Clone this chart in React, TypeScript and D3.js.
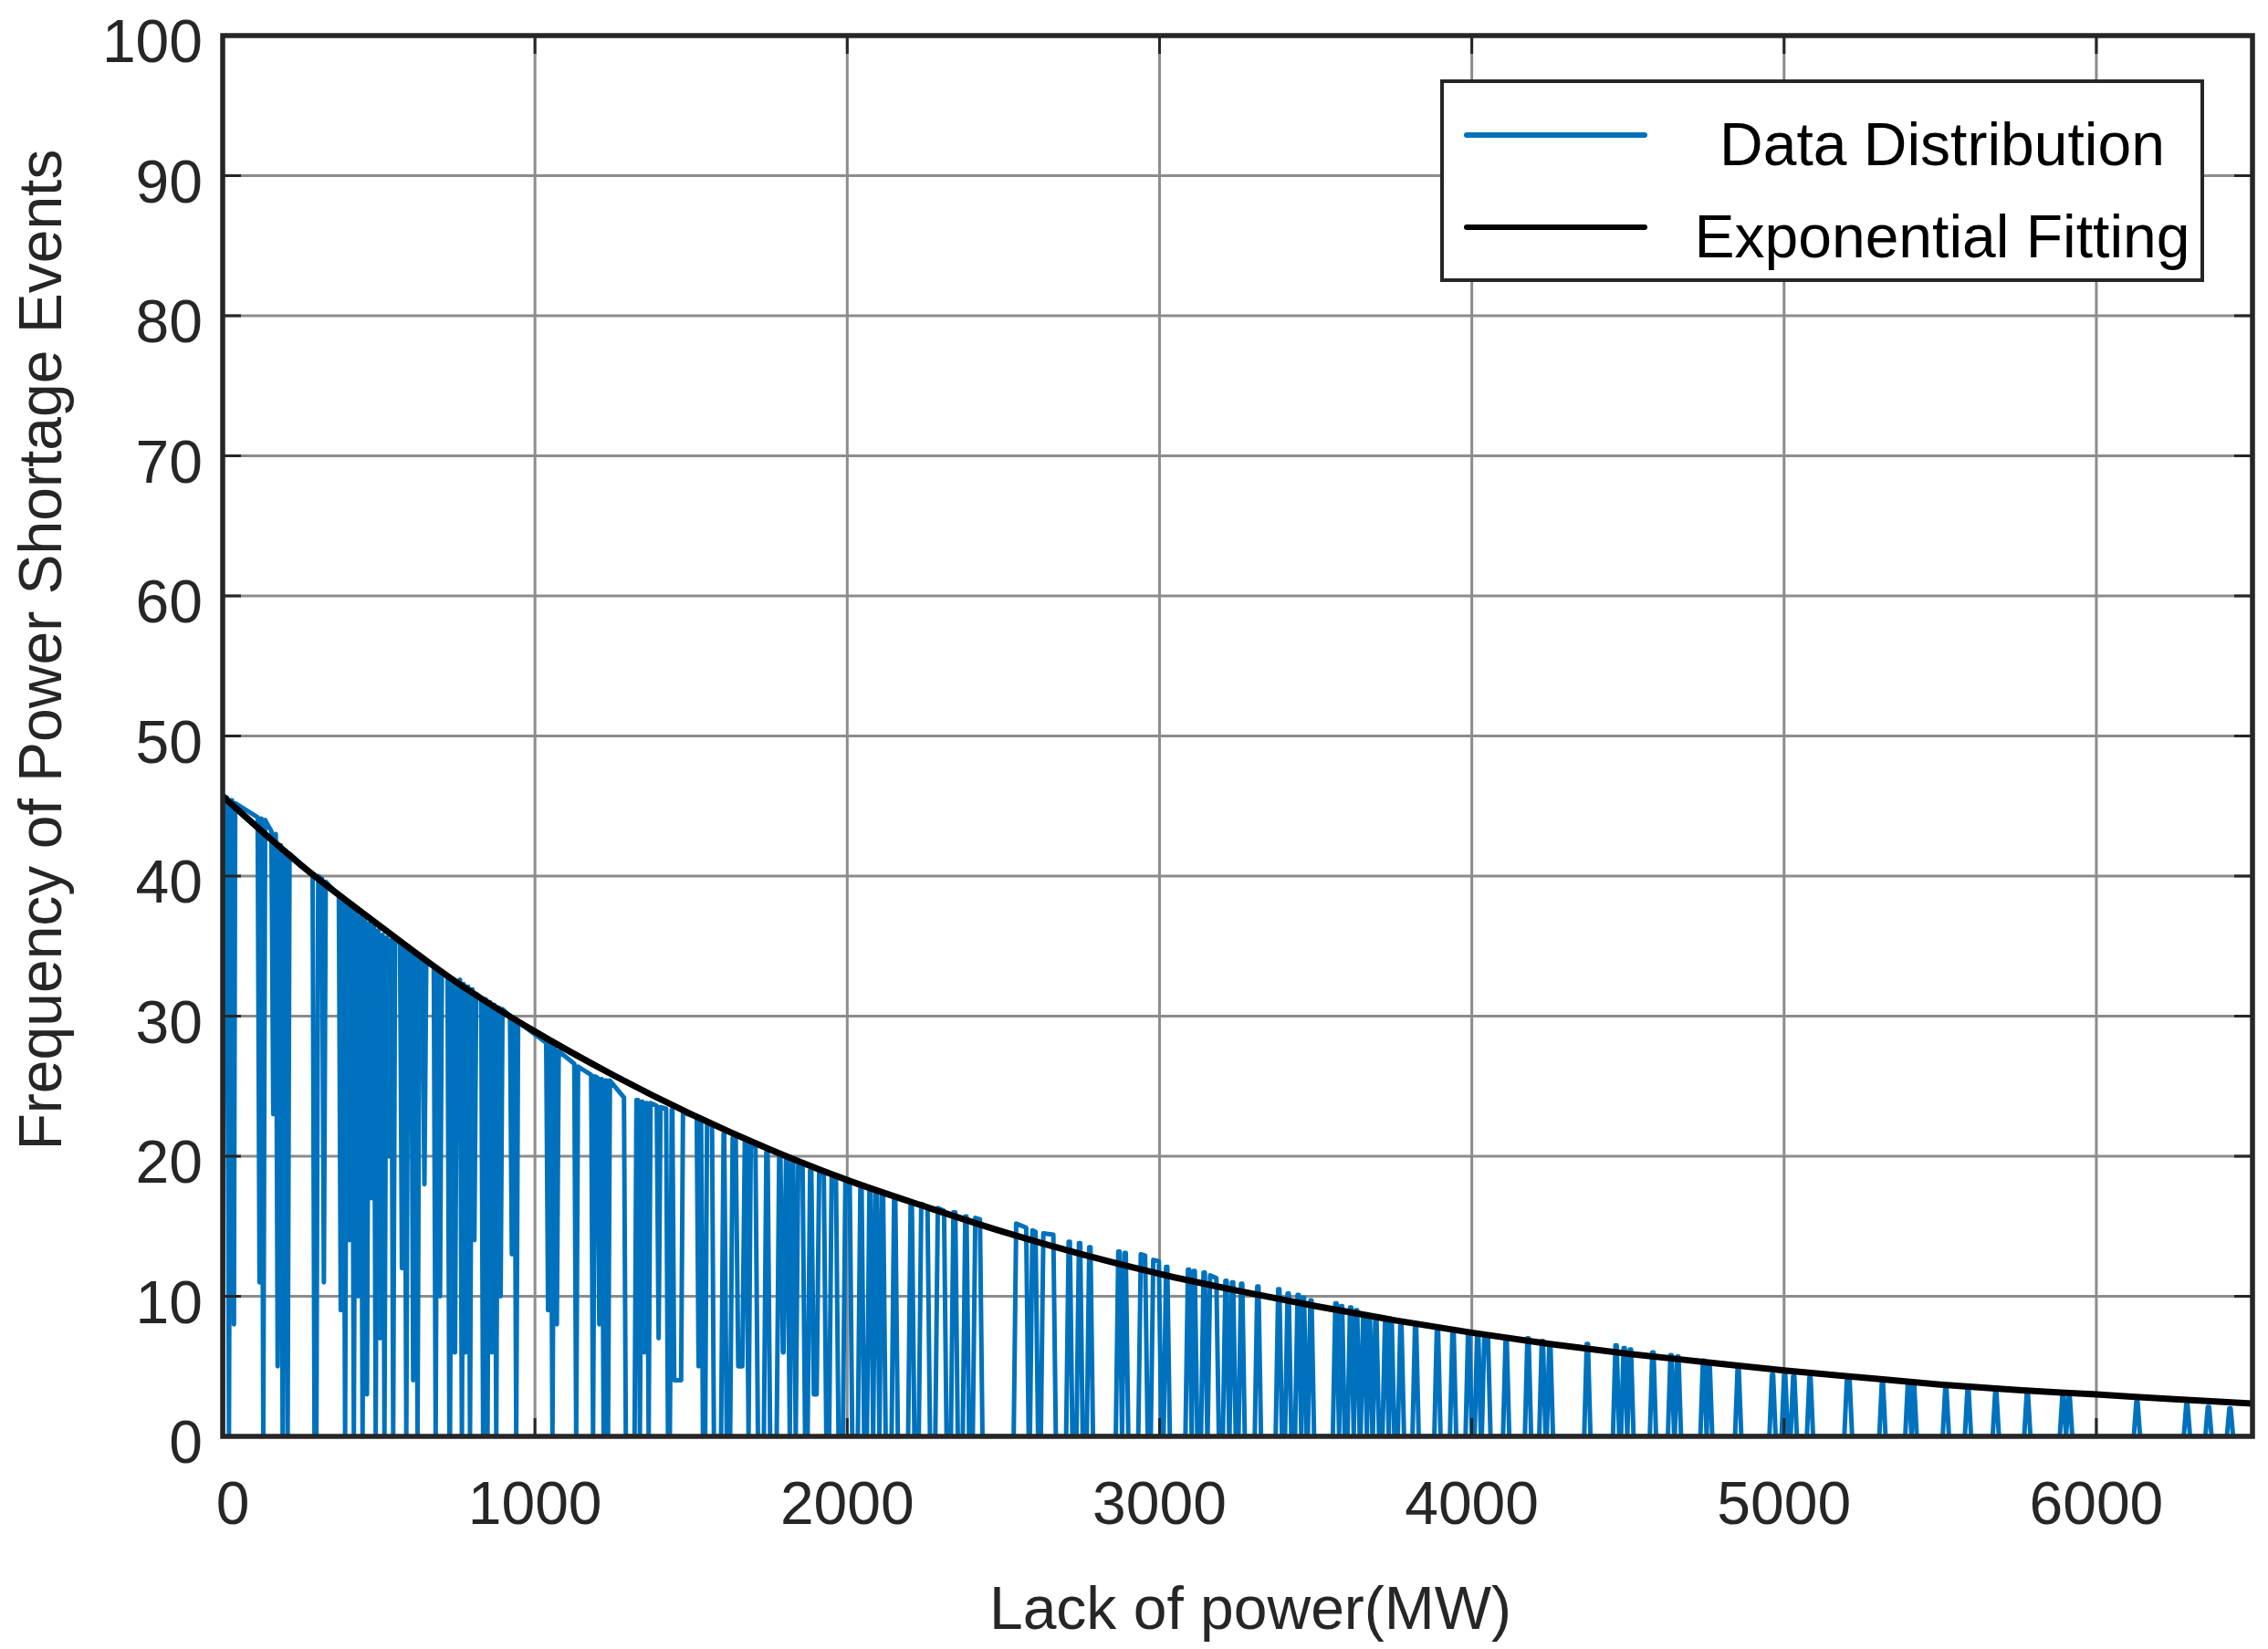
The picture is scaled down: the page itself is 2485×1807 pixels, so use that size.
import { useEffect, useRef } from "react";
import * as d3 from "d3";

const WIDTH = 2485;
const HEIGHT = 1807;

const xTicks = [0, 1000, 2000, 3000, 4000, 5000, 6000];
const yTicks = [0, 10, 20, 30, 40, 50, 60, 70, 80, 90, 100];

// exponential fitting curve, every 250 MW
const fitMW = [
  0, 250, 500, 750, 1000, 1250, 1500, 1750, 2000, 2250, 2500, 2750, 3000,
  3250, 3500, 3750, 4000, 4250, 4500, 4750, 5000, 5250, 5500, 5750, 6000,
  6250, 6500,
];
const fitFreq = [
  45.7, 40.8, 36.5, 32.4, 28.9, 25.8, 23.0, 20.5, 18.3, 16.4, 14.6, 13.0,
  11.6, 10.4, 9.3, 8.3, 7.4, 6.6, 5.9, 5.3, 4.7, 4.2, 3.7, 3.3, 3.0, 2.65,
  2.35,
];

// data distribution, dense part (0-1600 MW):
// pulses [fromMW, toMW, heightAtFrom, heightAtTo, levelAfter]
const densePulses: [number, number, number, number, number][] = [
  [4, 14, 45.7, 45.6, 0],
  [26, 30, 45.4, 45.4, 8],
  [40, 112, 45.2, 44.2, 11],
  [124, 124, 44.1, 44.1, 0],
  [136, 156, 44.0, 43.2, 23],
  [168, 170, 43.0, 43.0, 5],
  [182, 186, 42.2, 42.2, 0],
  [198, 202, 41.8, 41.8, 0],
  [214, 288, 41.6, 40.1, 0],
  [306, 318, 40.0, 39.8, 11],
  [330, 372, 39.6, 38.6, 9],
  [384, 386, 38.3, 38.3, 0],
  [398, 400, 38.0, 38.0, 14],
  [412, 414, 37.7, 37.7, 0],
  [426, 428, 37.4, 37.4, 10],
  [440, 442, 37.1, 37.1, 0],
  [454, 456, 36.9, 36.9, 3],
  [468, 470, 36.6, 36.6, 17],
  [482, 484, 36.4, 36.4, 0],
  [496, 498, 36.1, 36.1, 7],
  [510, 512, 35.8, 35.8, 0],
  [524, 526, 35.6, 35.6, 20],
  [538, 540, 35.4, 35.4, 0],
  [552, 568, 35.5, 35.2, 12],
  [580, 582, 35.0, 35.0, 0],
  [594, 604, 35.0, 34.8, 4],
  [616, 618, 34.5, 34.5, 0],
  [630, 640, 34.4, 34.2, 18],
  [652, 676, 33.9, 33.5, 0],
  [688, 690, 33.4, 33.4, 10],
  [702, 720, 33.2, 32.8, 0],
  [734, 736, 32.6, 32.6, 6],
  [750, 760, 32.4, 32.6, 0],
  [772, 772, 32.3, 32.3, 6],
  [784, 786, 32.1, 32.1, 0],
  [798, 800, 31.9, 31.9, 14],
  [812, 828, 31.6, 31.3, 0],
  [840, 842, 31.2, 31.2, 0],
  [854, 856, 31.0, 31.0, 6],
  [868, 870, 30.8, 30.8, 0],
  [882, 884, 30.6, 30.6, 10],
  [896, 920, 30.5, 30.0, 13],
  [932, 934, 29.8, 29.8, 0],
  [946, 1036, 29.6, 28.1, 9],
  [1048, 1050, 28.0, 28.0, 0],
  [1062, 1064, 27.8, 27.8, 8],
  [1076, 1126, 27.5, 26.6, 0],
  [1138, 1180, 26.4, 25.8, 0],
  [1192, 1200, 25.7, 25.6, 8],
  [1212, 1214, 25.5, 25.5, 0],
  [1226, 1228, 25.4, 25.4, 0],
  [1240, 1285, 25.4, 24.2, 0],
  [1325, 1330, 24.0, 24.0, 0],
  [1342, 1344, 23.9, 23.9, 6],
  [1356, 1358, 23.8, 23.8, 0],
  [1370, 1390, 23.8, 23.6, 7],
  [1402, 1420, 23.5, 23.4, 0],
  [1438, 1440, 23.3, 23.3, 4],
  [1474, 1518, 23.1, 22.8, 5],
  [1530, 1532, 22.7, 22.7, 0],
  [1551, 1567, 22.4, 22.2, 0],
];

// data distribution, sparse part (1600-6500 MW), same layout
const sparsePulses: [number, number, number, number, number][] = [
  [1604, 1606, 21.6, 21.6, 0],
  [1633, 1643, 21.3, 21.2, 5],
  [1672, 1676, 21.0, 21.0, 0],
  [1691, 1706, 20.9, 20.7, 0],
  [1741, 1745, 20.3, 20.3, 0],
  [1782, 1786, 20.0, 20.0, 6],
  [1804, 1808, 19.8, 19.8, 0],
  [1823, 1827, 19.6, 19.6, 0],
  [1843, 1857, 19.4, 19.3, 0],
  [1881, 1885, 19.0, 19.0, 3],
  [1910, 1925, 18.8, 18.7, 0],
  [1950, 1964, 18.5, 18.4, 0],
  [1994, 2008, 18.2, 18.1, 0],
  [2042, 2046, 17.7, 17.7, 0],
  [2071, 2075, 17.5, 17.5, 0],
  [2091, 2095, 17.3, 17.3, 0],
  [2111, 2115, 17.2, 17.2, 0],
  [2150, 2154, 16.9, 16.9, 0],
  [2203, 2207, 16.5, 16.5, 0],
  [2237, 2257, 16.6, 16.4, 0],
  [2290, 2310, 16.3, 16.1, 0],
  [2340, 2346, 16.0, 16.0, 0],
  [2378, 2382, 15.7, 15.7, 0],
  [2410, 2425, 15.6, 15.5, 0],
  [2541, 2573, 15.2, 14.9, 0],
  [2593, 2603, 14.7, 14.6, 0],
  [2628, 2660, 14.5, 14.4, 0],
  [2709, 2713, 13.9, 13.9, 0],
  [2742, 2746, 13.8, 13.8, 0],
  [2775, 2779, 13.5, 13.5, 0],
  [2868, 2872, 13.2, 13.2, 0],
  [2888, 2892, 13.1, 13.1, 0],
  [2940, 2954, 13.0, 12.9, 0],
  [2980, 2998, 12.6, 12.5, 0],
  [3021, 3025, 12.1, 12.1, 0],
  [3091, 3095, 11.9, 11.9, 0],
  [3109, 3113, 11.8, 11.8, 0],
  [3141, 3145, 11.7, 11.7, 0],
  [3162, 3182, 11.5, 11.3, 0],
  [3211, 3215, 11.1, 11.1, 0],
  [3232, 3236, 11.0, 11.0, 0],
  [3261, 3265, 10.9, 10.9, 0],
  [3313, 3317, 10.7, 10.7, 0],
  [3380, 3384, 10.5, 10.5, 0],
  [3410, 3414, 10.2, 10.2, 0],
  [3442, 3446, 10.1, 10.1, 0],
  [3459, 3463, 9.9, 9.9, 0],
  [3483, 3487, 9.7, 9.7, 0],
  [3563, 3567, 9.5, 9.5, 0],
  [3581, 3585, 9.3, 9.3, 0],
  [3610, 3614, 9.2, 9.2, 0],
  [3629, 3633, 9.0, 9.0, 0],
  [3652, 3656, 8.6, 8.6, 0],
  [3670, 3674, 8.5, 8.5, 0],
  [3691, 3695, 8.3, 8.3, 0],
  [3722, 3726, 8.2, 8.2, 0],
  [3740, 3744, 8.1, 8.1, 0],
  [3771, 3775, 7.9, 7.9, 0],
  [3818, 3822, 7.8, 7.8, 0],
  [3888, 3892, 7.7, 7.7, 0],
  [3938, 3942, 7.5, 7.5, 0],
  [3988, 3992, 7.4, 7.4, 0],
  [4017, 4021, 7.3, 7.3, 0],
  [4040, 4052, 7.2, 7.1, 0],
  [4108, 4112, 6.8, 6.8, 0],
  [4178, 4182, 7.0, 7.0, 0],
  [4224, 4228, 6.8, 6.8, 0],
  [4248, 4252, 6.5, 6.5, 0],
  [4368, 4372, 6.6, 6.6, 0],
  [4460, 4464, 6.5, 6.5, 0],
  [4486, 4490, 6.3, 6.3, 0],
  [4506, 4510, 6.2, 6.2, 0],
  [4578, 4582, 6.0, 6.0, 0],
  [4636, 4640, 5.8, 5.8, 0],
  [4658, 4662, 5.7, 5.7, 0],
  [4740, 4744, 5.4, 5.4, 0],
  [4758, 4762, 5.2, 5.2, 0],
  [4851, 4855, 4.8, 4.8, 0],
  [4961, 4965, 4.4, 4.4, 0],
  [5000, 5004, 4.4, 4.4, 0],
  [5029, 5033, 4.3, 4.3, 0],
  [5081, 5085, 4.2, 4.2, 0],
  [5201, 5210, 4.0, 4.0, 0],
  [5313, 5317, 3.8, 3.8, 0],
  [5396, 5400, 3.7, 3.7, 0],
  [5413, 5417, 3.6, 3.6, 0],
  [5516, 5520, 3.4, 3.4, 0],
  [5587, 5591, 3.3, 3.3, 0],
  [5676, 5680, 3.15, 3.15, 0],
  [5777, 5781, 3.05, 3.05, 0],
  [5891, 5895, 2.85, 2.85, 0],
  [5911, 5915, 2.8, 2.8, 0],
  [6128, 6132, 2.5, 2.5, 0],
  [6288, 6292, 2.3, 2.3, 0],
  [6357, 6361, 2.1, 2.1, 0],
  [6426, 6430, 2.0, 2.0, 0],
];

const legendItems = [
  { label: "Data Distribution", color: "#0072BD" },
  { label: "Exponential Fitting", color: "#000000" },
];

const FONT = "'Liberation Sans', Arial, Helvetica, sans-serif";
// MW taken by each rise / fall of the trace
const RAMP_DENSE = 6;
const RAMP_SPARSE = 8;

function distributionVertices(): [number, number][] {
  const pts: [number, number][] = [[0, 0]];
  let level = 0;
  const add = (list: typeof densePulses, ramp: number) => {
    for (const [a, b, h0, h1, after] of list) {
      const lastX = pts[pts.length - 1][0];
      pts.push([Math.max(lastX, a - ramp), level]);
      pts.push([a, h0]);
      if (b > a) pts.push([b, h1]);
      pts.push([b + ramp, after]);
      level = after;
    }
  };
  add(densePulses, RAMP_DENSE);
  add(sparsePulses, RAMP_SPARSE);
  pts.push([6500, level]);
  return pts;
}

export default function App() {
  const svgRef = useRef<SVGSVGElement>(null);

  useEffect(() => {
    if (!svgRef.current) return;
    const svg = d3.select(svgRef.current);
    svg.selectAll("*").remove();

    const left = 244;
    const right = 2468;
    const top = 39;
    const bottom = 1574;

    const x = d3.scaleLinear().domain([0, 6500]).range([left, right]);
    const y = d3.scaleLinear().domain([0, 100]).range([bottom, top]);

    svg
      .append("rect")
      .attr("width", WIDTH)
      .attr("height", HEIGHT)
      .attr("fill", "#ffffff");

    svg
      .append("defs")
      .append("clipPath")
      .attr("id", "plot-clip")
      .append("rect")
      .attr("x", left)
      .attr("y", top)
      .attr("width", right - left)
      .attr("height", bottom - top);

    // grid
    const grid = svg.append("g").attr("stroke", "#8c8c8c").attr("stroke-width", 3);
    xTicks.forEach((t) => {
      grid
        .append("line")
        .attr("x1", x(t))
        .attr("x2", x(t))
        .attr("y1", top)
        .attr("y2", bottom);
    });
    yTicks.forEach((t) => {
      grid
        .append("line")
        .attr("x1", left)
        .attr("x2", right)
        .attr("y1", y(t))
        .attr("y2", y(t));
    });

    // data distribution trace
    const line = d3
      .line<[number, number]>()
      .x((d) => x(d[0]))
      .y((d) => y(d[1]));

    svg
      .append("path")
      .attr("clip-path", "url(#plot-clip)")
      .attr("d", line(distributionVertices()))
      .attr("fill", "none")
      .attr("stroke", legendItems[0].color)
      .attr("stroke-width", 5)
      .attr("stroke-linejoin", "round");

    // exponential fit
    const fitLine = d3
      .line<number>()
      .x((_, i) => x(fitMW[i]))
      .y((d) => y(d))
      .curve(d3.curveMonotoneX);

    svg
      .append("path")
      .attr("clip-path", "url(#plot-clip)")
      .attr("d", fitLine(fitFreq))
      .attr("fill", "none")
      .attr("stroke", legendItems[1].color)
      .attr("stroke-width", 7)
      .attr("stroke-linecap", "round");

    // inward ticks on all four sides
    const ticks = svg.append("g").attr("stroke", "#262626").attr("stroke-width", 3);
    const TL = 20;
    xTicks.forEach((t) => {
      ticks.append("line").attr("x1", x(t)).attr("x2", x(t)).attr("y1", bottom).attr("y2", bottom - TL);
      ticks.append("line").attr("x1", x(t)).attr("x2", x(t)).attr("y1", top).attr("y2", top + TL);
    });
    yTicks.forEach((t) => {
      ticks.append("line").attr("x1", left).attr("x2", left + TL).attr("y1", y(t)).attr("y2", y(t));
      ticks.append("line").attr("x1", right).attr("x2", right - TL).attr("y1", y(t)).attr("y2", y(t));
    });

    // box
    svg
      .append("rect")
      .attr("x", left)
      .attr("y", top)
      .attr("width", right - left)
      .attr("height", bottom - top)
      .attr("fill", "none")
      .attr("stroke", "#262626")
      .attr("stroke-width", 5.5);

    // tick labels
    const labels = svg
      .append("g")
      .style("font-family", FONT)
      .style("font-size", "66px")
      .attr("fill", "#262626");

    xTicks.forEach((t) => {
      labels
        .append("text")
        .attr("x", x(t) + (t === 0 ? 11 : 0))
        .attr("y", 1670)
        .attr("text-anchor", "middle")
        .text(String(t));
    });
    yTicks.forEach((t) => {
      labels
        .append("text")
        .attr("x", 222)
        .attr("y", y(t) + 29)
        .attr("text-anchor", "end")
        .text(String(t));
    });

    // axis titles
    labels
      .append("text")
      .attr("x", 1370)
      .attr("y", 1785)
      .attr("text-anchor", "middle")
      .text("Lack of power(MW)");

    labels
      .append("text")
      .attr("transform", `translate(67,712) rotate(-90)`)
      .attr("text-anchor", "middle")
      .text("Frequency of Power Shortage Events");

    // legend
    const lg = svg.append("g");
    lg.append("rect")
      .attr("x", 1580)
      .attr("y", 89)
      .attr("width", 833)
      .attr("height", 218)
      .attr("fill", "#ffffff")
      .attr("stroke", "#262626")
      .attr("stroke-width", 4);

    legendItems.forEach((item, i) => {
      const ly = 148 + i * 101;
      lg.append("line")
        .attr("x1", 1607)
        .attr("x2", 1802)
        .attr("y1", ly)
        .attr("y2", ly)
        .attr("stroke", item.color)
        .attr("stroke-width", 6)
        .attr("stroke-linecap", "round");
      lg.append("text")
        .attr("x", 2128)
        .attr("y", ly + 33)
        .attr("text-anchor", "middle")
        .style("font-family", FONT)
        .style("font-size", "66px")
        .attr("fill", "#000000")
        .text(item.label);
    });
  }, []);

  return (
    <div style={{ position: "absolute", left: 0, top: 0 }}>
      <svg
        ref={svgRef}
        width={WIDTH}
        height={HEIGHT}
        role="img"
        aria-label="Frequency of power shortage events vs lack of power"
      />
    </div>
  );
}
